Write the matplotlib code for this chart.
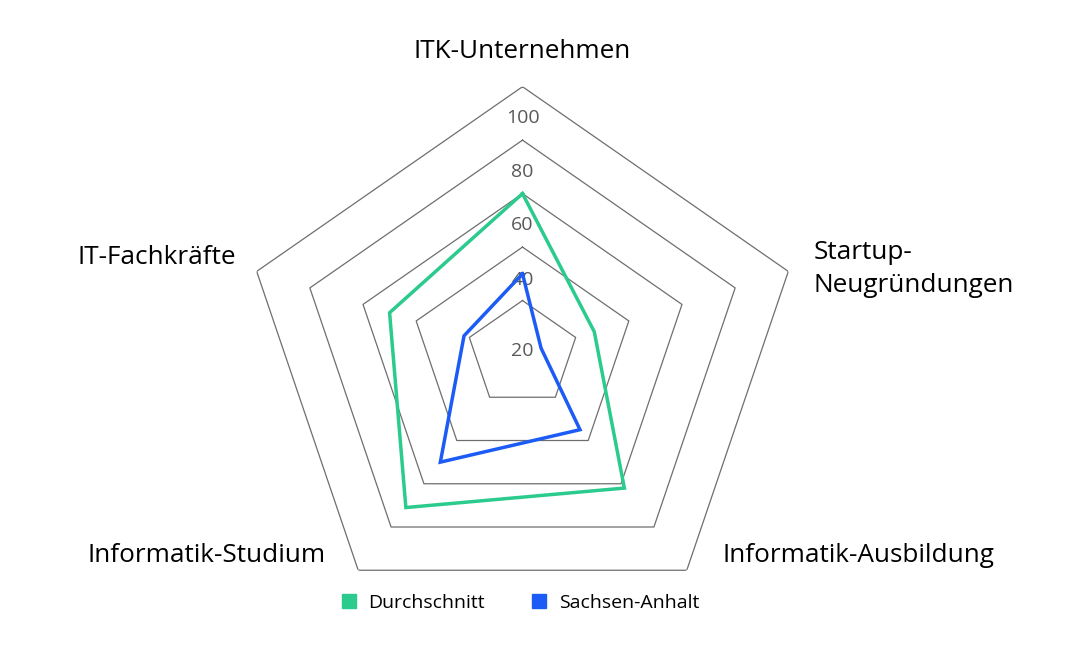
import numpy as np
import matplotlib
matplotlib.use("Agg")
import matplotlib.pyplot as plt
from matplotlib.lines import Line2D

# ---------------- Daten ----------------
kategorien = ["ITK-Unternehmen", "Startup-\nNeugründungen", "Informatik-Ausbildung",
              "Informatik-Studium", "IT-Fachkräfte"]
durchschnitt = [60, 27, 62, 71, 50]
sachsen_anhalt = [30, 7, 35, 50, 22]
ringe = [20, 40, 60, 80, 100]

gruen = "#2BCB8E"
blau = "#1C5CF5"
grid_farbe = "#6E6E6E"
tick_farbe = "#595959"

plt.rcParams["font.family"] = ["Open Sans", "DejaVu Sans"]

fig = plt.figure(figsize=(10.9, 6.68), dpi=100)
ax = fig.add_subplot(projection="polar")
ax.set_theta_zero_location("N")
ax.set_theta_direction(-1)
ax.set_aspect("auto")
# Achsenbox: Mitte (522.5, 354), Radius x 279.5, y 267.3 px
ax.set_position([243 / 1090, 46.7 / 668, 559 / 1090, 534.6 / 668])
ax.set_ylim(0, 100)

winkel = np.deg2rad(np.arange(len(kategorien)) * 72.0)
winkel_zu = np.append(winkel, winkel[0])

# Fünfeck-Gitter
for r in ringe:
    ax.plot(winkel_zu, [r] * len(winkel_zu), color=grid_farbe, lw=0.9, zorder=1)

# Reihen
for werte, farbe in [(durchschnitt, gruen), (sachsen_anhalt, blau)]:
    ax.plot(winkel_zu, werte + werte[:1], color=farbe, lw=2.5, zorder=3,
            solid_joinstyle="miter")

ax.grid(False)
ax.spines["polar"].set_visible(False)
ax.set_xticks([])
ax.set_yticks([])
ax.patch.set_alpha(0)

# Radiale Beschriftung
tick_r = [1.2, 27.7, 48.3, 68.2, 88.2]
for r, lab in zip(tick_r, ringe):
    ax.text(0, r, str(lab), ha="center", va="center", fontsize=14,
            color=tick_farbe, zorder=2)

# Kategorien
fs = 18.8
fig.text(522 / 1090, 1 - 52 / 668, kategorien[0], ha="center", va="center", fontsize=fs)
fig.text(814 / 1090, 1 - 269 / 668, kategorien[1], ha="left", va="center", fontsize=fs,
         linespacing=1.4)
fig.text(994 / 1090, 1 - 555 / 668, kategorien[2], ha="right", va="center", fontsize=fs)
fig.text(88 / 1090, 1 - 555 / 668, kategorien[3], ha="left", va="center", fontsize=fs)
fig.text(78 / 1090, 1 - 258 / 668, kategorien[4], ha="left", va="center", fontsize=fs)

# Legende
handles = [Line2D([], [], marker="s", ls="none", color=gruen, markersize=10.5),
           Line2D([], [], marker="s", ls="none", color=blau, markersize=10.5)]
fig.legend(handles, ["Durchschnitt", "Sachsen-Anhalt"], loc="center",
           bbox_to_anchor=(520 / 1090, 1 - 603 / 668), ncol=2, frameon=False,
           fontsize=14, handlelength=0.8, handletextpad=0.6, columnspacing=2.4)

plt.savefig("out.png", dpi=100)
